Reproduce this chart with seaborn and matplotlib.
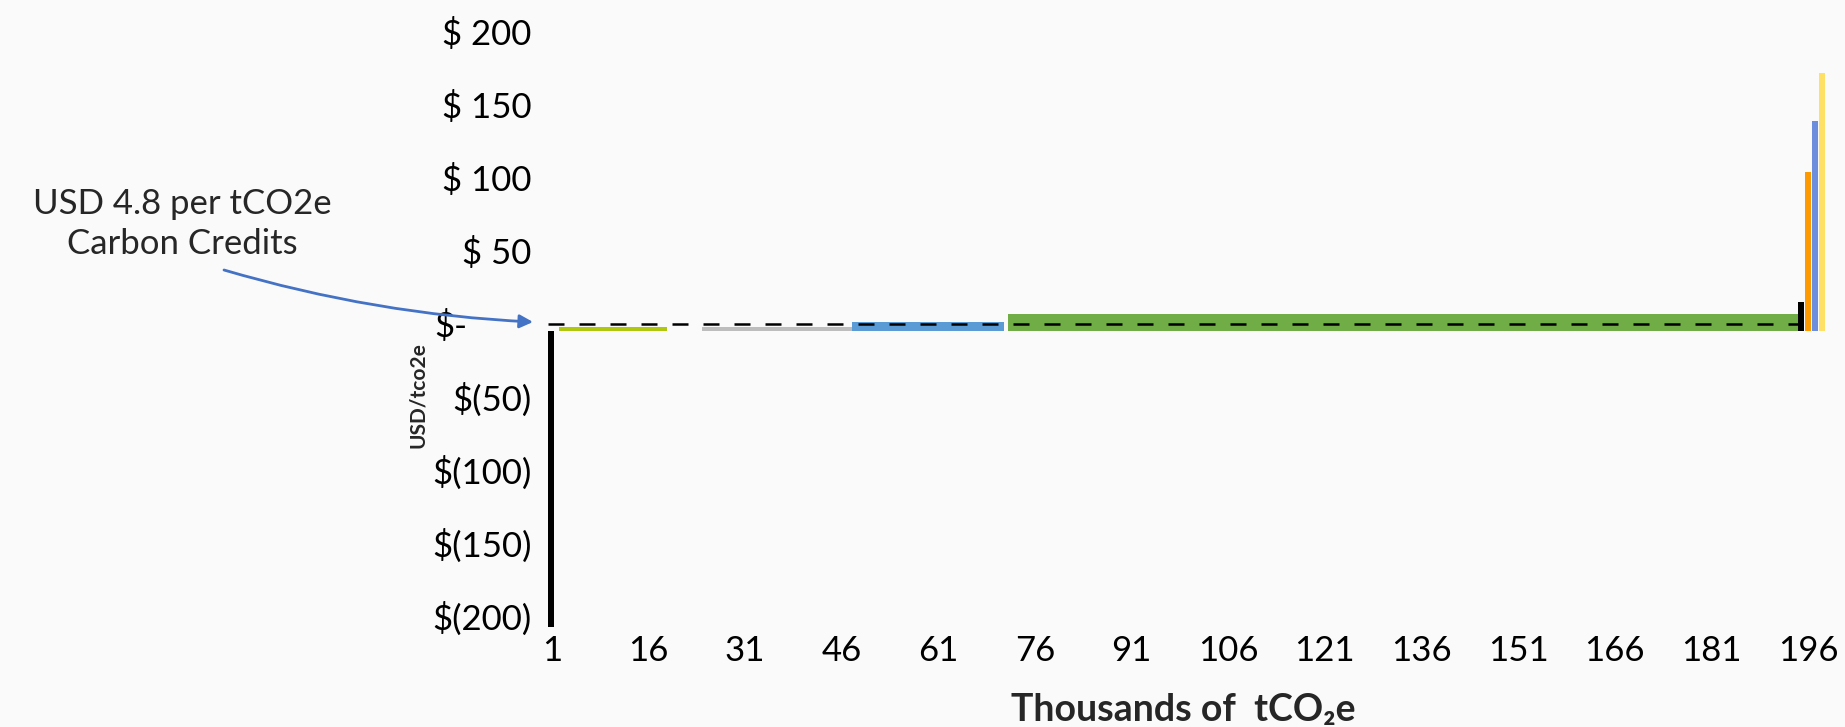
import matplotlib
matplotlib.use("Agg")
import matplotlib.pyplot as plt
import matplotlib.transforms as mtransforms
import seaborn as sns

# Abatement options: left edge and width on the cumulative axis (thousand tCO2e),
# and marginal abatement cost (USD per tCO2e)
option_start = [0.4, 2.1, 24.3, 47.6, 71.8, 194.4, 195.5, 196.6, 197.7]
option_width = [0.9, 16.8, 23.3, 23.6, 122.6, 1.0, 1.0, 0.9, 1.0]
option_cost = [-210, 2.4, 2.4, 6.0, 11.3, 19.7, 108.8, 143.8, 176.7]
option_color = ["#000000", "#AFC70F", "#BDBDBD", "#5B9BD5", "#70AD47",
                "#000000", "#FF9900", "#6C8EDD", "#FFE066"]

carbon_price = 4.8

x_ticks = list(range(1, 197, 15))
y_ticks = [200, 150, 100, 50, 0, -50, -100, -150, -200]
y_tick_labels = ["$ 200", "$ 150", "$ 100", "$ 50", "$-",
                 "$(50)", "$(100)", "$(150)", "$(200)"]

BG = "#FAFAFA"
sns.set_theme(style="white", rc={"figure.facecolor": BG, "axes.facecolor": BG})
plt.rcParams["font.family"] = ["Lato", "DejaVu Sans"]

fig = plt.figure(figsize=(18.45, 7.27), dpi=100)
ax = fig.add_axes([0.2957, 0.1376, 0.6982, 0.8088])

ax.bar(option_start, option_cost, width=option_width, align="edge",
       color=option_color, linewidth=0, zorder=2)

# Carbon credit price line across the curve
sns.lineplot(x=[option_start[0], option_start[5] + 0.6],
             y=[carbon_price, carbon_price], ax=ax, color="black",
             linewidth=1.8, zorder=3)
ax.lines[-1].set_dashes((6.4, 6.0))

ax.set_xlim(0, 200)
ax.set_ylim(-203, 200)
ax.set_xticks(x_ticks)
ax.set_xticklabels([str(t) for t in x_ticks])
ax.set_yticks(y_ticks)
ax.set_yticklabels(y_tick_labels)
ax.tick_params(axis="both", length=0, labelsize=25, colors="black")
ax.tick_params(axis="y", pad=10)
ax.tick_params(axis="x", pad=6)
for s in ax.spines.values():
    s.set_visible(False)
ax.grid(False)

# Lift the value labels slightly; the zero label sits further left
for lbl, val in zip(ax.get_yticklabels(), y_ticks):
    dx = -64 / 100 if val == 0 else 0
    lbl.set_transform(lbl.get_transform() +
                      mtransforms.ScaledTranslation(dx, 7 / 100, fig.dpi_scale_trans))

ax.set_xlabel("Thousands of  tCO\u2082e", fontsize=27, fontweight="bold")
ax.xaxis.set_label_coords(0.4948, -0.142)
ax.xaxis.label.set_va("center")
ax.set_ylabel("USD/tco2e", fontsize=15, fontweight="bold")
ax.yaxis.set_label_coords(-0.099, 0.395)
ax.yaxis.label.set_va("center")

fig.text(182 / 1845, 1 - 224 / 727, "USD 4.8 per tCO2e\nCarbon Credits",
         ha="center", va="center", fontsize=25, linespacing=1.3)

ax.annotate("", xy=(533, 727 - 322), xytext=(224, 727 - 270),
            xycoords="figure pixels", textcoords="figure pixels",
            arrowprops=dict(arrowstyle="-|>", color="#4472C4", lw=2,
                            mutation_scale=20, shrinkA=0, shrinkB=0,
                            connectionstyle="arc3,rad=0.06"))

fig.savefig("out.png", dpi=100, facecolor=BG)
